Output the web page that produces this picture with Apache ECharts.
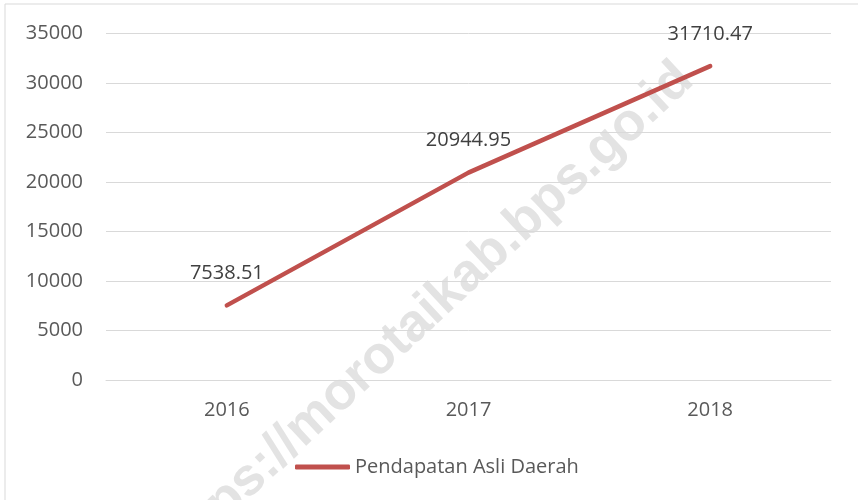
<!DOCTYPE html>
<html>
<head>
<meta charset="utf-8">
<script src="https://cdn.jsdelivr.net/npm/echarts@6/dist/echarts.min.js"></script>
<style>html,body{margin:0;padding:0;background:#fff}#c{width:858px;height:500px}</style>
</head>
<body>
<div id="c"></div>
<script>
var categories = ['2016', '2017', '2018'];
var seriesName = 'Pendapatan Asli Daerah';
var values = [7538.51, 20944.95, 31710.47];
var yTicks = { min: 0, max: 35000, interval: 5000 };

var FONT = '"Open Sans", sans-serif';
var TXT = '#595959';
var chart = echarts.init(document.getElementById('c'), null, { renderer: 'canvas' });
chart.setOption({
  backgroundColor: '#ffffff',
  animation: false,
  textStyle: { fontFamily: FONT },
  graphic: [
    { type: 'rect', z: -10, shape: { x: 5, y: 4, width: 900, height: 600 },
      style: { fill: 'none', stroke: '#d9d9d9', lineWidth: 1 } },
    { type: 'text', z: -5, x: 425, y: 315, rotation: 43 * Math.PI / 180,
      style: { text: 'https://morotaikab.bps.go.id', fill: '#e3e3e3',
        font: 'bold 53px "Liberation Sans", Arial, sans-serif',
        textAlign: 'center', textVerticalAlign: 'middle' } }
  ],
  grid: { left: 106, right: 27, top: 33.5, bottom: 120, containLabel: false },
  legend: {
    data: [seriesName], left: 290, top: 452,
    icon: 'roundRect', itemWidth: 55, itemHeight: 5, itemGap: 5,
    textStyle: { color: TXT, fontSize: 20, fontFamily: FONT }
  },
  xAxis: {
    type: 'category', data: categories, boundaryGap: true,
    axisLine: { show: true, lineStyle: { color: '#d9d9d9' } },
    axisTick: { show: false },
    axisLabel: { color: TXT, fontSize: 20, margin: 20, fontFamily: FONT }
  },
  yAxis: {
    type: 'value', min: yTicks.min, max: yTicks.max, interval: yTicks.interval,
    axisLine: { show: false }, axisTick: { show: false },
    splitLine: { lineStyle: { color: '#d9d9d9', width: 1 } },
    axisLabel: { color: TXT, fontSize: 20, margin: 23, fontFamily: FONT,
      formatter: function (v) { return String(v); } }
  },
  series: [{
    name: seriesName, type: 'line', data: values, z: 5,
    symbol: 'circle', symbolSize: 0.01, showSymbol: true, smooth: false,
    lineStyle: { color: '#C0504D', width: 4.5, cap: 'round', join: 'round' },
    itemStyle: { color: '#C0504D' },
    label: { show: true, position: 'top', distance: 22, color: '#404040',
      fontSize: 20, fontFamily: FONT,
      formatter: function (p) { return String(p.value); } }
  }]
});
</script>
</body>
</html>
